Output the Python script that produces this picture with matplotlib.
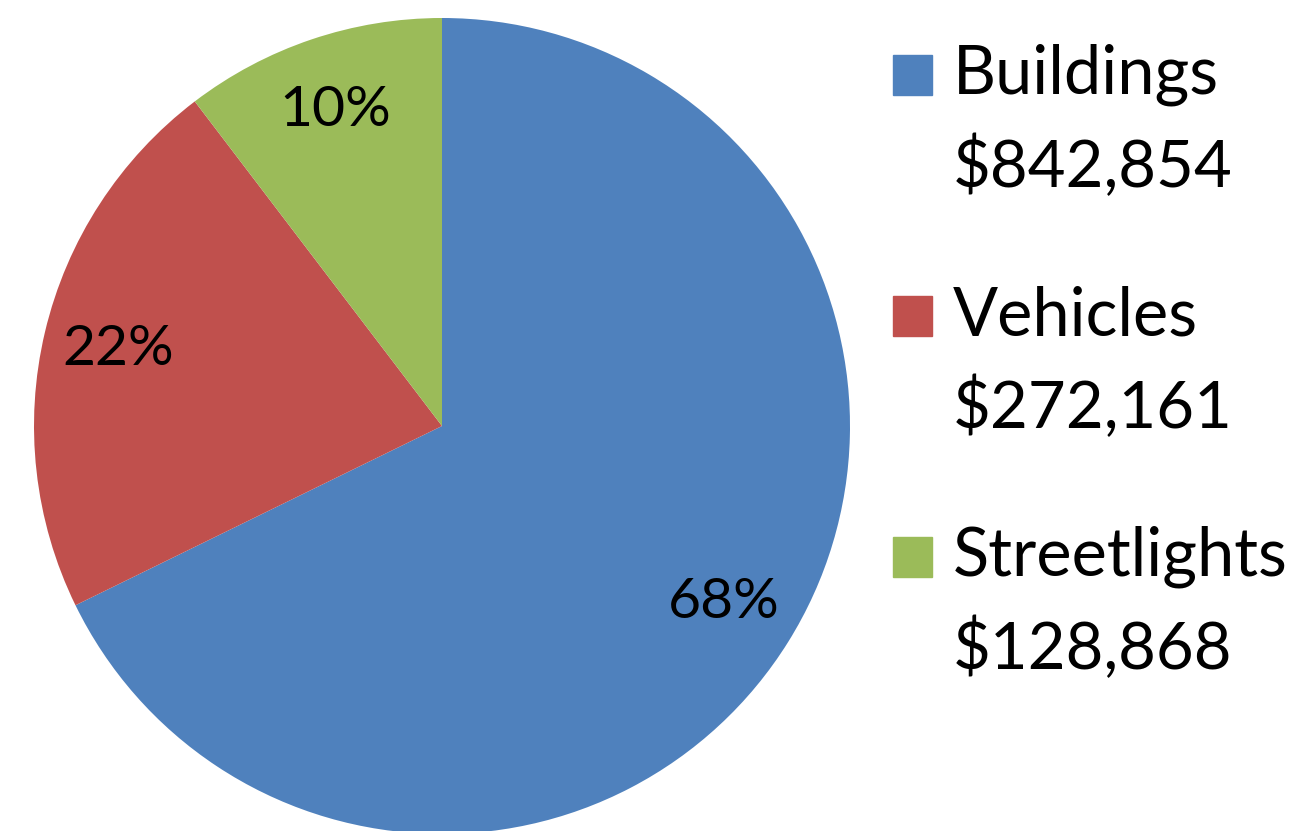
import matplotlib.pyplot as plt
from matplotlib.patches import Rectangle

plt.rcParams['font.family'] = ['Lato', 'DejaVu Sans']

# data
categories = ['Buildings', 'Vehicles', 'Streetlights']
amounts = [842854, 272161, 128868]
colors = ['#4F81BD', '#C0504D', '#9BBB59']

fig = plt.figure(figsize=(13.07, 8.31), dpi=100)

# pie axes: center ~ (442, 426) px, radius ~408 px
W, H = 1307, 831
cx, cy, r = 442, 426, 408
ax = fig.add_axes([(cx - r) / W, (H - cy - r) / H, 2 * r / W, 2 * r / H])
wedges, texts, autotexts = ax.pie(amounts, colors=colors, startangle=90, counterclock=False,
                                  autopct='%1.0f%%', pctdistance=0.815,
                                  textprops={'fontsize': 41, 'color': 'black'})
ax.set_xlim(-1, 1)
ax.set_ylim(-1, 1)
ax.set_aspect('equal')

# legend, drawn by hand so the square sits on the first line
for i, (name, val) in enumerate(zip(categories, amounts)):
    y1 = 75 + 241 * i
    fig.patches.append(Rectangle((893 / W, (H - y1 - 20) / H), 39 / W, 40 / H,
                                 transform=fig.transFigure, color=wedges[i].get_facecolor()))
    fig.text(953 / W, (H - y1) / H, name, fontsize=48, va='center', ha='left')
    fig.text(953 / W, (H - y1 - 91) / H, '${:,}'.format(val), fontsize=47, va='center', ha='left')

fig.savefig('out.png', dpi=100)
